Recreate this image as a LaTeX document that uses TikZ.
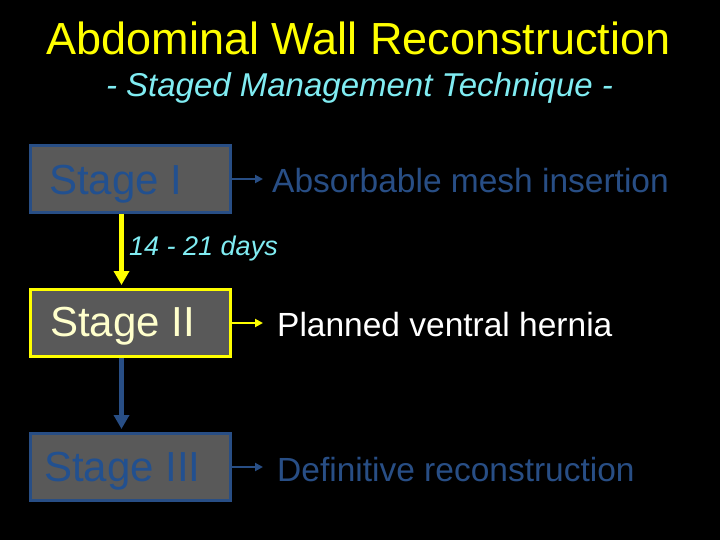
\documentclass[tikz,border=0pt]{standalone}
\usepackage{fontspec}
\setmainfont{Liberation Sans}
\usetikzlibrary{arrows.meta}
\definecolor{stblue}{HTML}{284E85}
\definecolor{sttext}{HTML}{22508F}
\definecolor{stgray}{HTML}{595959}
\definecolor{styellow}{HTML}{FFFF00}
\definecolor{stcyan}{HTML}{80ECF2}
\definecolor{stlight}{HTML}{FFFFCC}
\tikzset{
  stagebox/.style={draw=#1, line width=3pt, fill=stgray, minimum width=200pt, minimum height=67pt, inner sep=0pt, anchor=north west},
  stagetext/.style={font=\fontsize{42}{42}\selectfont, anchor=base west, inner sep=0pt},
  desc/.style={font=\fontsize{33.5}{33.5}\selectfont, anchor=base west, inner sep=0pt},
  sidearrow/.style={draw=#1, line width=2.5pt, -{Triangle[length=8pt,width=8pt]}},
  downarrow/.style={draw=#1, line width=5pt, -{Triangle[length=14pt,width=15pt]}, shorten >=3pt}
}
\begin{document}
\begin{tikzpicture}[x=1pt,y=-1pt]
\fill[black] (0,0) rectangle (720,540);
\useasboundingbox (0,0) rectangle (720,540);
\node[font=\fontsize{45}{45}\selectfont, text=styellow, anchor=base] (title) at (358.5,55) {Abdominal Wall Reconstruction};
\node[font=\fontsize{33}{33}\selectfont\itshape, text=stcyan, anchor=base] (sub) at (359.5,97) {- Staged Management Technique -};
% boxes
\node[stagebox=stblue] (s1) at (29,144) {};
\node[stagebox=styellow] (s2) at (29,288) {};
\node[stagebox=stblue] (s3) at (29,432) {};
\node[stagetext, text=sttext] (t1) at (49,195) {Stage I};
\node[stagetext, text=stlight] (t2) at (50,336) {Stage II};
\node[stagetext, text=sttext] (t3) at (44,481) {Stage III};
% descriptions
\node[desc, text=stblue] (d1) at (272,192.5) {Absorbable mesh insertion};
\node[desc, text=white] (d2) at (277,336) {Planned ventral hernia};
\node[desc, text=stblue] (d3) at (277,481) {Definitive reconstruction};
% side connectors
\coordinate (e1) at (263,177);
\coordinate (e2) at (263,321);
\coordinate (e3) at (263,466);
\draw[sidearrow=stblue] (s1.east) -- (s1.east -| e1);
\draw[sidearrow=styellow] (s2.east) -- (s2.east -| e2);
\draw[sidearrow=stblue] (s3.east) -- (s3.east -| e3);
% down arrows
\draw[downarrow=styellow] ([xshift=-9pt]s1.south) -- ([xshift=-9pt]s2.north);
\draw[downarrow=stblue] ([xshift=-9pt]s2.south) -- ([xshift=-9pt]s3.north);
\node[font=\fontsize{27}{27}\selectfont\itshape, text=stcyan, anchor=base west, inner sep=0pt] (days) at (129,255) {14 - 21 days};
\end{tikzpicture}
\end{document}
